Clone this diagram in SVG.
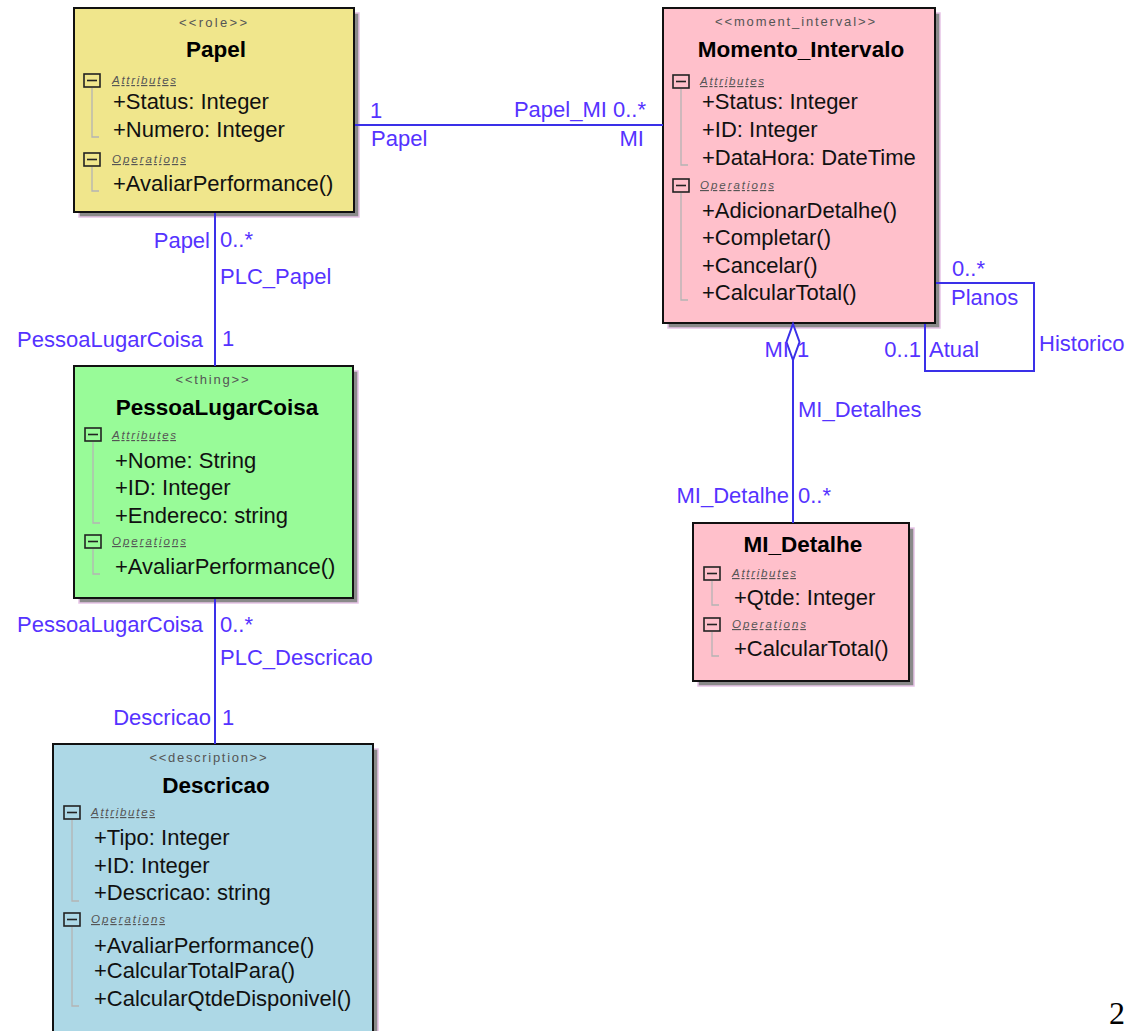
<svg xmlns="http://www.w3.org/2000/svg" width="1134" height="1031" viewBox="0 0 1134 1031">
  <defs>
    <style>
      .box { stroke: #111; stroke-width: 2; }
      .shadow { fill: #8a8a8a; stroke: #e6c3e6; stroke-width: 1.5; }
      .stereo { font-family: "Liberation Sans", Arial, sans-serif; font-size: 13px; fill: #555; text-anchor: middle; }
      .title { font-family: "Liberation Sans", Arial, sans-serif; font-size: 22.5px; font-weight: bold; fill: #000; text-anchor: middle; }
      .sect { font-family: "Liberation Sans", Arial, sans-serif; font-size: 11.5px; font-style: italic; fill: #555; text-decoration: underline; }
      .item { font-family: "Liberation Sans", Arial, sans-serif; font-size: 22px; fill: #111; }
      .toggle { fill: none; stroke: #222; stroke-width: 1.6; }
      .tree { fill: none; stroke: #b4b4b4; stroke-width: 1.3; }
      .conn { fill: none; stroke: #3a30e8; stroke-width: 2; }
      .lbl { font-family: "Liberation Sans", Arial, sans-serif; font-size: 22px; fill: #5533ff; }
      .end { text-anchor: end; }
    </style>
  </defs>

  <rect width="1134" height="1031" fill="#fff"/>

  <!-- Papel -->
  <g id="papel">
    <rect class="shadow" x="79" y="13" width="280" height="204"/>
    <rect class="box" x="74" y="8" width="280" height="204" fill="#f0e68c"/>
    <text class="stereo" x="213" y="27" textLength="68">&lt;&lt;role&gt;&gt;</text>
    <text class="title" x="216" y="57">Papel</text>
    <rect class="toggle" x="84" y="74" width="16" height="13"/>
    <line x1="87" y1="80.5" x2="97" y2="80.5" stroke="#222" stroke-width="1.6"/>
    <text class="sect" x="112" y="84" textLength="64">Attributes</text>
    <polyline class="tree" points="92,88 92,137 99,137"/>
    <text class="item" x="113" y="109">+Status: Integer</text>
    <text class="item" x="113" y="137">+Numero: Integer</text>
    <rect class="toggle" x="84" y="153" width="16" height="13"/>
    <line x1="87" y1="159.5" x2="97" y2="159.5" stroke="#222" stroke-width="1.6"/>
    <text class="sect" x="112" y="163" textLength="74">Operations</text>
    <polyline class="tree" points="92,167 92,191 99,191"/>
    <text class="item" x="113" y="191">+AvaliarPerformance()</text>
  </g>

  <!-- Momento_Intervalo -->
  <g id="momento-intervalo">
    <rect class="shadow" x="668" y="13" width="272" height="315"/>
    <rect class="box" x="663" y="8" width="272" height="315" fill="#ffc0cb"/>
    <text class="stereo" x="795" y="26" textLength="160">&lt;&lt;moment_interval&gt;&gt;</text>
    <text class="title" x="801" y="57">Momento_Intervalo</text>
    <rect class="toggle" x="673" y="75" width="16" height="13"/>
    <line x1="676" y1="81.5" x2="686" y2="81.5" stroke="#222" stroke-width="1.6"/>
    <text class="sect" x="700" y="85" textLength="64">Attributes</text>
    <polyline class="tree" points="681,89 681,165 688,165"/>
    <text class="item" x="702" y="109">+Status: Integer</text>
    <text class="item" x="702" y="137">+ID: Integer</text>
    <text class="item" x="702" y="165">+DataHora: DateTime</text>
    <rect class="toggle" x="673" y="179" width="16" height="13"/>
    <line x1="676" y1="185.5" x2="686" y2="185.5" stroke="#222" stroke-width="1.6"/>
    <text class="sect" x="700" y="189" textLength="74">Operations</text>
    <polyline class="tree" points="681,193 681,300 688,300"/>
    <text class="item" x="702" y="218">+AdicionarDetalhe()</text>
    <text class="item" x="702" y="245">+Completar()</text>
    <text class="item" x="702" y="273">+Cancelar()</text>
    <text class="item" x="702" y="300">+CalcularTotal()</text>
  </g>

  <!-- PessoaLugarCoisa -->
  <g id="pessoa-lugar-coisa">
    <rect class="shadow" x="79" y="371" width="279" height="232"/>
    <rect class="box" x="74" y="366" width="279" height="232" fill="#98fb98"/>
    <text class="stereo" x="212" y="384" textLength="73">&lt;&lt;thing&gt;&gt;</text>
    <text class="title" x="217" y="415">PessoaLugarCoisa</text>
    <rect class="toggle" x="85" y="428" width="16" height="13"/>
    <line x1="88" y1="434.5" x2="98" y2="434.5" stroke="#222" stroke-width="1.6"/>
    <text class="sect" x="112" y="439" textLength="64">Attributes</text>
    <polyline class="tree" points="93,442 93,523 100,523"/>
    <text class="item" x="115" y="468">+Nome: String</text>
    <text class="item" x="115" y="495">+ID: Integer</text>
    <text class="item" x="115" y="523">+Endereco: string</text>
    <rect class="toggle" x="85" y="535" width="16" height="13"/>
    <line x1="88" y1="541.5" x2="98" y2="541.5" stroke="#222" stroke-width="1.6"/>
    <text class="sect" x="112" y="545" textLength="74">Operations</text>
    <polyline class="tree" points="93,549 93,574 100,574"/>
    <text class="item" x="115" y="574">+AvaliarPerformance()</text>
  </g>

  <!-- Descricao -->
  <g id="descricao">
    <rect class="shadow" x="58" y="749" width="320" height="300"/>
    <rect class="box" x="53" y="744" width="320" height="300" fill="#add8e6"/>
    <text class="stereo" x="208" y="762" textLength="117">&lt;&lt;description&gt;&gt;</text>
    <text class="title" x="216" y="793">Descricao</text>
    <rect class="toggle" x="64" y="806" width="16" height="13"/>
    <line x1="67" y1="812.5" x2="77" y2="812.5" stroke="#222" stroke-width="1.6"/>
    <text class="sect" x="91" y="816" textLength="64">Attributes</text>
    <polyline class="tree" points="72,820 72,901 79,901"/>
    <text class="item" x="94" y="845">+Tipo: Integer</text>
    <text class="item" x="94" y="873">+ID: Integer</text>
    <text class="item" x="94" y="900">+Descricao: string</text>
    <rect class="toggle" x="64" y="913" width="16" height="13"/>
    <line x1="67" y1="919.5" x2="77" y2="919.5" stroke="#222" stroke-width="1.6"/>
    <text class="sect" x="91" y="923" textLength="74">Operations</text>
    <polyline class="tree" points="72,927 72,1006 79,1006"/>
    <text class="item" x="94" y="953">+AvaliarPerformance()</text>
    <text class="item" x="94" y="978">+CalcularTotalPara()</text>
    <text class="item" x="94" y="1006">+CalcularQtdeDisponivel()</text>
  </g>

  <!-- MI_Detalhe -->
  <g id="mi-detalhe">
    <rect class="shadow" x="698" y="528" width="216" height="158"/>
    <rect class="box" x="693" y="523" width="216" height="158" fill="#ffc0cb"/>
    <text class="title" x="803" y="552">MI_Detalhe</text>
    <rect class="toggle" x="704" y="567" width="16" height="13"/>
    <line x1="707" y1="573.5" x2="717" y2="573.5" stroke="#222" stroke-width="1.6"/>
    <text class="sect" x="732" y="577" textLength="64">Attributes</text>
    <polyline class="tree" points="712,581 712,605 719,605"/>
    <text class="item" x="734" y="605">+Qtde: Integer</text>
    <rect class="toggle" x="704" y="618" width="16" height="13"/>
    <line x1="707" y1="624.5" x2="717" y2="624.5" stroke="#222" stroke-width="1.6"/>
    <text class="sect" x="732" y="628" textLength="74">Operations</text>
    <polyline class="tree" points="712,632 712,656 719,656"/>
    <text class="item" x="734" y="656">+CalcularTotal()</text>
  </g>

  <!-- associations, drawn over the box shadows -->
  <g id="connectors">
    <!-- Papel_MI -->
    <line class="conn" x1="355" y1="125" x2="663" y2="125"/>
    <text class="lbl" x="370" y="118">1</text>
    <text class="lbl end" x="646" y="117">Papel_MI 0..*</text>
    <text class="lbl" x="371" y="146">Papel</text>
    <text class="lbl end" x="644" y="146">MI</text>

    <!-- PLC_Papel -->
    <line class="conn" x1="215" y1="213" x2="215" y2="366"/>
    <text class="lbl end" x="210" y="248">Papel</text>
    <text class="lbl" x="220" y="247">0..*</text>
    <text class="lbl" x="220" y="284">PLC_Papel</text>
    <text class="lbl end" x="203" y="347">PessoaLugarCoisa</text>
    <text class="lbl" x="222" y="346">1</text>

    <!-- PLC_Descricao -->
    <line class="conn" x1="215" y1="599" x2="215" y2="744"/>
    <text class="lbl end" x="203" y="632">PessoaLugarCoisa</text>
    <text class="lbl" x="220" y="632">0..*</text>
    <text class="lbl" x="220" y="665">PLC_Descricao</text>
    <text class="lbl end" x="211" y="725">Descricao</text>
    <text class="lbl" x="222" y="725">1</text>

    <!-- Historico (self association) -->
    <polyline class="conn" points="936,283 1034,283 1034,371 925,371 925,324"/>
    <text class="lbl" x="952" y="276">0..*</text>
    <text class="lbl" x="951" y="305">Planos</text>
    <text class="lbl end" x="921" y="357">0..1</text>
    <text class="lbl" x="929" y="357">Atual</text>
    <text class="lbl" x="1039" y="351">Historico</text>

    <!-- MI_Detalhes (aggregation) -->
    <line class="conn" x1="793" y1="360" x2="793" y2="523"/>
    <polygon points="793,324 799.5,342 793,360 786.5,342" fill="#fff" stroke="#3a30e8" stroke-width="2"/>
    <text class="lbl end" x="789" y="357">MI</text>
    <text class="lbl" x="797" y="357">1</text>
    <text class="lbl" x="798" y="417">MI_Detalhes</text>
    <text class="lbl end" x="789" y="503">MI_Detalhe</text>
    <text class="lbl" x="798" y="503">0..*</text>
  </g>

  <!-- page number -->
  <text x="1109" y="1024" font-family="Liberation Serif, 'Times New Roman', serif" font-size="32" fill="#000">2</text>
</svg>
